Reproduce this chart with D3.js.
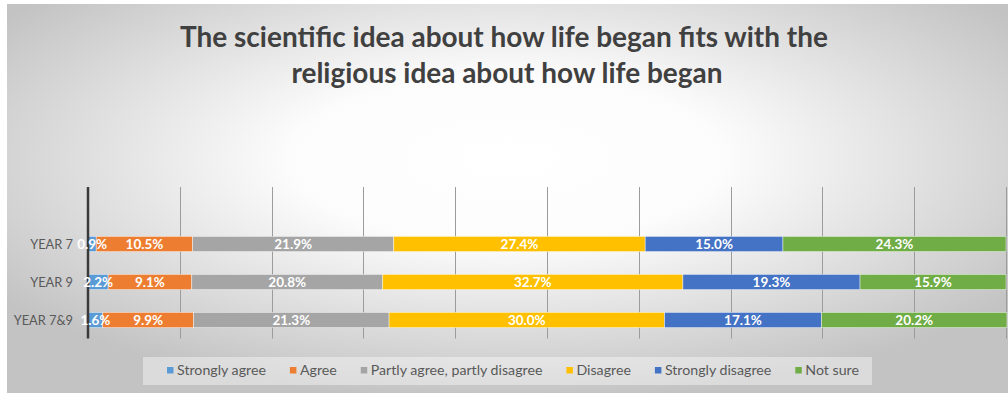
<!DOCTYPE html>
<html>
<head>
<meta charset="utf-8">
<script src="https://cdn.jsdelivr.net/npm/d3@7"></script>
<style>
  html, body { margin: 0; padding: 0; background: #ffffff; }
  svg { display: block; }
  text { font-family: Lato, "Open Sans", "DejaVu Sans", sans-serif; }
</style>
</head>
<body>
<svg id="chart" width="1008" height="393"></svg>
<script>
// Survey responses, percent of pupils per year group
const categories = ["YEAR 7", "YEAR 9", "YEAR 7&9"];
const seriesNames = ["Strongly agree", "Agree", "Partly agree, partly disagree", "Disagree", "Strongly disagree", "Not sure"];
const stronglyAgree    = [0.9, 2.2, 1.6];
const agree            = [10.5, 9.1, 9.9];
const partlyAgree      = [21.9, 20.8, 21.3];
const disagree         = [27.4, 32.7, 30.0];
const stronglyDisagree = [15.0, 19.3, 17.1];
const notSure          = [24.3, 15.9, 20.2];
const xTicks = [0, 10, 20, 30, 40, 50, 60, 70, 80, 90, 100];
const titleLines = ["The scientific idea about how life began fits with the", "religious idea about how life began"];

const seriesValues = [stronglyAgree, agree, partlyAgree, disagree, stronglyDisagree, notSure];
const colors = ["#5B9BD5", "#ED7D31", "#A5A5A5", "#FFC000", "#4472C4", "#70AD47"];

const W = 1008, H = 393;
const svg = d3.select("#chart");

// Chart area background with a soft radial fill
const defs = svg.append("defs");
const grad = defs.append("radialGradient")
  .attr("id", "bg").attr("cx", "0.5").attr("cy", "0.4").attr("r", "0.62");
grad.append("stop").attr("offset", "0").attr("stop-color", "#ffffff");
grad.append("stop").attr("offset", "0.35").attr("stop-color", "#fcfcfc");
grad.append("stop").attr("offset", "1").attr("stop-color", "#c3c3c3");
svg.append("rect").attr("x", 7).attr("y", 4).attr("width", W - 7).attr("height", H - 4)
  .attr("fill", "url(#bg)");

// Title, two centred lines, sized to the wanted line width
const title = svg.append("g").attr("fill", "#404040").attr("font-weight", 700);
const t1 = title.append("text").attr("x", 504).attr("y", 46.5).attr("text-anchor", "middle")
  .attr("font-size", 24).text(titleLines[0]);
const w0 = t1.node().getComputedTextLength();
const titleSize = 24 * 648 / w0;
t1.attr("font-size", titleSize);
title.append("text").attr("x", 507).attr("y", 83).attr("text-anchor", "middle")
  .attr("font-size", titleSize).text(titleLines[1]);

// Scales
const plotTop = 187, plotBottom = 338.5;
const x = d3.scaleLinear().domain([0, 100]).range([88, 1006]);
const y = d3.scaleBand().domain(categories).range([225, 339]).paddingInner(0.6).paddingOuter(0.3);

// Vertical gridlines
svg.append("g").selectAll("line").data(xTicks.slice(1)).join("line")
  .attr("x1", d => Math.round(x(d)) + 0.5).attr("x2", d => Math.round(x(d)) + 0.5)
  .attr("y1", plotTop).attr("y2", plotBottom)
  .attr("stroke", "#9c9c9c").attr("stroke-width", 1);

// Stacked segments
const rows = categories.map((c, i) => {
  const r = { category: c };
  seriesNames.forEach((s, j) => { r[s] = seriesValues[j][i]; });
  return r;
});
const stacked = d3.stack().keys(seriesNames)(rows);

svg.append("g").selectAll("g").data(stacked).join("g")
  .attr("fill", (d, i) => colors[i])
  .selectAll("rect").data(d => d).join("rect")
  .attr("x", d => x(d[0]))
  .attr("width", d => x(d[1]) - x(d[0]))
  .attr("y", d => y(d.data.category))
  .attr("height", y.bandwidth())
  .attr("stroke", "#ffffff").attr("stroke-opacity", 0.55).attr("stroke-width", 0.8);

// Category axis line
svg.append("line").attr("x1", 88).attr("x2", 88).attr("y1", plotTop).attr("y2", plotBottom)
  .attr("stroke", "#3a3a3a").attr("stroke-width", 2.5);

// Category labels
svg.append("g").selectAll("text").data(categories).join("text")
  .attr("x", 73).attr("y", d => y(d) + y.bandwidth() / 2)
  .attr("dy", "0.36em").attr("text-anchor", "end")
  .attr("font-size", 12.8).attr("fill", "#595959")
  .text(d => d);

// Value labels centred in each segment, drawn above every bar
svg.append("g").selectAll("g").data(stacked).join("g")
  .selectAll("text").data(d => d).join("text")
  .attr("x", d => (x(d[0]) + x(d[1])) / 2)
  .attr("y", d => y(d.data.category) + y.bandwidth() / 2)
  .attr("dy", "0.36em").attr("text-anchor", "middle")
  .attr("font-size", 13.5).attr("font-weight", 700).attr("fill", "#ffffff")
  .text(d => (d[1] - d[0]).toFixed(1) + "%");

// Legend
svg.append("rect").attr("x", 143).attr("y", 357).attr("width", 729).attr("height", 28)
  .attr("fill", "#ffffff").attr("fill-opacity", 0.4);
const legend = svg.append("g");
let lx = 167;
seriesNames.forEach((s, i) => {
  legend.append("rect").attr("x", lx).attr("y", 367).attr("width", 6.5).attr("height", 6.5)
    .attr("fill", colors[i]);
  const t = legend.append("text").attr("x", lx + 10).attr("y", 370.5).attr("dy", "0.35em")
    .attr("font-size", 14.2).attr("fill", "#595959").text(s);
  lx += 10 + t.node().getComputedTextLength() + 24;
});
</script>
</body>
</html>
